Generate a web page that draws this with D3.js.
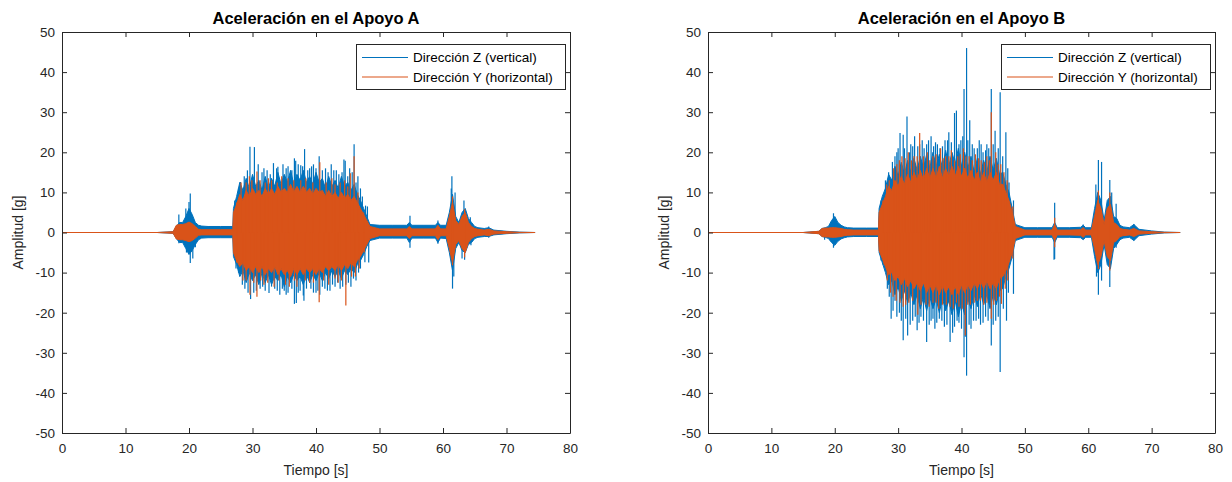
<!DOCTYPE html>
<html><head><meta charset="utf-8">
<script src="https://cdn.jsdelivr.net/npm/d3@7"></script>
<style>
body{margin:0;background:#fff}
svg{display:block}
text{font-family:"Liberation Sans",Arial,Helvetica,sans-serif}
</style>
</head><body>
<svg id="chart" width="1232" height="482"></svg>
<script>
// ---------- data ----------
const titles = ["Aceleración en el Apoyo A", "Aceleración en el Apoyo B"];
const seriesNames = ["Dirección Z (vertical)", "Dirección Y (horizontal)"];
const xTicks = [0, 10, 20, 30, 40, 50, 60, 70, 80];
const yTicks = [-50, -40, -30, -20, -10, 0, 10, 20, 30, 40, 50];

// envelope sample times [s]
const times = [0, 15, 17.5, 18, 18.5, 19, 19.5, 20, 20.5, 21, 21.5, 22, 23, 25, 26.9,
 27, 27.5, 28, 28.5, 29, 29.5, 30, 30.5, 31, 31.5, 32, 32.5, 33, 33.5, 34, 34.5, 35, 35.5, 36, 36.5, 37, 37.5, 38, 38.5, 39, 39.5, 40, 40.5, 41, 41.5, 42, 42.5, 43, 43.5, 44, 44.5, 45, 45.5, 46, 46.5, 47, 47.5, 48, 48.5,
 50, 52, 54.3, 54.7, 55.1, 57, 58.8, 59.2, 59.6, 60.5, 61, 61.5, 62, 62.5, 63, 63.5, 64, 64.5, 65, 65.5, 66.5, 67.2, 68, 70, 72, 74.5];

// Apoyo A — Z (vertical) envelope
const zHiA = [0, 0, 0.2, 1.5, 2.5, 2.5, 4, 6, 4.5, 2.5, 1.8, 1.6, 1.5, 1.5, 1.5,
 6, 9, 12.5, 10.5, 13.5, 11, 14.5, 11.5, 13, 10.5, 14, 11, 13.5, 11.5, 15, 12, 14.5, 12.5, 15.5, 12, 14.5, 13, 15.5, 12.5, 14, 12, 15, 12.5, 13.5, 11, 14, 11.5, 13, 11, 14, 11.5, 12.5, 10.5, 12, 9.5, 8, 6, 4, 2,
 1.8, 1.8, 1.8, 2.5, 1.8, 1.8, 1.8, 2.5, 1.8, 1.8, 5, 9.5, 4, 2.5, 5, 6, 3.5, 2.5, 1.5, 1.2, 1, 1.2, 0.6, 0.3, 0.1, 0];
const zLoA = [0, 0, -0.2, -1.5, -2.5, -2.5, -4, -5.5, -4.5, -3, -1.8, -1.4, -1.3, -1.3, -1.3,
 -6, -8, -11, -9.5, -12.5, -10, -12, -10.5, -13, -10, -12.5, -10.5, -13, -11, -12, -10.5, -13.5, -11, -12.5, -10.5, -12, -11, -13, -10.5, -12.5, -10.5, -12, -10, -12, -10, -11.5, -9.5, -11, -9.5, -11.5, -9.5, -10.5, -9, -10, -8, -7, -5.5, -3.5, -2,
 -1.4, -1.4, -1.4, -2.5, -1.4, -1.4, -1.4, -2.5, -1.4, -1.5, -5, -9.5, -4, -2.5, -4.5, -5, -3, -2.5, -1.5, -1.2, -1, -1, -0.6, -0.3, -0.1, 0];
// Apoyo A — Y (horizontal) envelope
const yHiA = [0, 0, 0.2, 1.8, 2, 2, 2.2, 2.6, 2.2, 1.5, 0.8, 0.7, 0.7, 0.7, 0.7,
 5, 7, 9.5, 8, 10.5, 9, 11, 9.5, 10.5, 9, 11, 9.5, 11, 9.5, 11.5, 10, 11, 10, 12, 10, 11.5, 10, 11.5, 10, 11, 9.5, 11, 10, 10.5, 9, 10.5, 9, 10, 8.5, 10, 8.5, 9.5, 8, 9, 7.5, 6, 4.5, 3, 1.5,
 0.9, 0.9, 0.9, 1.5, 0.9, 0.9, 0.9, 1.8, 0.9, 0.9, 4, 7.5, 3, 2, 4, 5, 2.5, 1.5, 1, 0.8, 0.6, 0.8, 0.4, 0.2, 0.05, 0];
const yLoA = [0, 0, -0.2, -1.6, -1.8, -1.8, -2, -2.3, -2, -1.4, -0.7, -0.6, -0.6, -0.6, -0.6,
 -5, -7, -8.5, -7.5, -9.5, -8.5, -10, -8.5, -10, -8.5, -10.5, -9, -10, -8.5, -10.5, -9, -10.5, -9.5, -11, -9, -10.5, -9, -10.5, -9, -10, -9, -10.5, -9, -10, -8.5, -9.5, -8.5, -9.5, -8, -9.5, -8, -9, -7.5, -8.5, -7, -6, -4.5, -3, -1.5,
 -0.8, -0.8, -0.8, -1.5, -0.8, -0.8, -0.8, -1.8, -0.8, -0.8, -4, -7.5, -3, -2, -4, -5, -2.5, -1.5, -1, -0.8, -0.6, -0.8, -0.4, -0.2, -0.05, 0];

// Apoyo B — Z (vertical) envelope
const zHiB = [0, 0, 0.3, 1, 1.2, 1.5, 3, 4, 2.5, 1.8, 1.4, 1.2, 1.1, 1.1, 1.1,
 6, 9, 11, 14.5, 13, 16.5, 14, 17.5, 14.5, 18, 15, 18.5, 15.5, 19, 16, 19.5, 16, 20, 16.5, 19.5, 16, 20.5, 16.5, 20, 17, 21, 16.5, 20, 16, 19, 15, 18.5, 14.5, 18, 15, 19, 15.5, 18.5, 14.5, 15, 12, 10, 6, 2,
 1.2, 1.2, 1.2, 2.5, 1.2, 1.2, 1.3, 1.8, 1.2, 1.2, 6, 10, 8, 3, 8, 9, 4, 3.5, 1.8, 1.4, 1.2, 2, 0.8, 0.4, 0.1, 0];
const zLoB = [0, 0, -0.3, -1, -1.2, -1.5, -2.5, -3.2, -2.2, -1.6, -1.3, -1.1, -1, -1, -1,
 -5, -7.5, -10, -13, -12, -15.5, -13.5, -17, -14.5, -17.5, -15, -18, -15.5, -19, -16, -19.5, -16, -19, -16.5, -20, -16.5, -19.5, -17, -20.5, -17, -21, -17.5, -20.5, -16.5, -19, -15.5, -18.5, -15, -18, -15.5, -19, -15.5, -18, -14.5, -14, -11, -9, -6, -2,
 -1.2, -1.2, -1.2, -2.5, -1.2, -1.2, -1.3, -1.8, -1.2, -1.2, -6, -10, -8, -3, -8, -9, -4, -3, -1.8, -1.4, -1.2, -2, -0.8, -0.4, -0.1, 0];
// Apoyo B — Y (horizontal) envelope
const yHiB = [0, 0, 0.3, 1, 1.1, 1.1, 1.2, 1.2, 1.1, 1, 0.8, 0.7, 0.6, 0.6, 0.6,
 5, 7, 9, 11.5, 10.5, 13, 11.5, 14, 12, 14.5, 12.5, 15, 13, 15.5, 13, 16, 13.5, 16, 13.5, 16.5, 13.5, 16, 14, 16.5, 14, 16.5, 14, 16, 13.5, 15.5, 13, 15, 12.5, 15, 12.5, 15, 13, 15, 12, 12, 10, 8, 5, 1.5,
 0.6, 0.6, 0.6, 2, 0.6, 0.6, 0.7, 1.2, 0.6, 0.6, 4, 8, 6, 2, 6, 7, 2.5, 2, 1, 0.8, 0.6, 1, 0.4, 0.2, 0.05, 0];
const yLoB = [0, 0, -0.3, -1, -1.1, -1.1, -1.2, -1.2, -1.1, -1, -0.8, -0.7, -0.6, -0.6, -0.6,
 -4.5, -6.5, -8.5, -10.5, -10, -12, -11, -13, -11.5, -13.5, -12, -14, -12.5, -14.5, -12.5, -15, -13, -15, -13, -15.5, -13, -15, -13.5, -15.5, -13.5, -15.5, -13, -15, -13, -14.5, -12.5, -14, -12, -14, -12, -14, -12.5, -14, -11.5, -11, -9.5, -7.5, -5, -1.5,
 -0.6, -0.6, -0.6, -2, -0.6, -0.6, -0.7, -1.2, -0.6, -0.6, -4, -8, -6, -2, -6, -7, -2.5, -2, -1, -0.8, -0.6, -1, -0.4, -0.2, -0.05, 0];

// isolated peaks [time s, amplitude g]
const zPeaksA = [[18.4,4.5],[18.4,-2.7],[19.5,6],[20.0,7.6],[20.2,9.7],[20.2,-7.6],[20.6,-6.5],[19.6,-5],[21.0,-3.7],
 [28.1,12.6],[29.6,21.4],[30.3,21.3],[30.9,17],[31.8,16],[32.3,15.5],[33.3,17.3],[34.0,16.4],[34.8,17],[35.6,16.5],[36.6,18.5],[36.8,17.9],[37.6,16.8],[38.2,20.8],[39.0,16],[39.6,17],[40.5,19.0],[41.5,16],[42.4,17],[43.2,15.5],[44.4,18.2],[44.6,17.9],[45.3,16],[46.0,22.0],[46.6,14],[47.3,9],[47.8,6.7],[48.1,6.5],
 [27.2,8],[27.8,11],[28.7,14],[29.2,15.5],[31.5,15],[32.8,14.5],[33.8,16],[35.3,16],[36.2,15.5],[37.2,17],[37.9,16.5],[38.7,15.5],[39.3,16.5],[40.0,16],[41.0,15.5],[41.9,15],[42.8,15.5],[43.6,14.5],[44.1,15],[45.0,14],[45.7,15],[46.3,12.5],[47.0,11],
 [27.4,-9],[28.4,-13],[29.7,-16.6],[30.2,-15],[31.2,-14],[32.0,-14.5],[32.6,-15.1],[33.5,-14],[34.3,-15.5],[35.0,-14.5],[35.6,-15],[36.6,-17.8],[36.9,-17.6],[37.5,-14.5],[38.0,-15.7],[38.1,-17],[39.2,-14],[40.0,-15],[40.6,-15.5],[41.4,-14],[42.2,-14.5],[43.0,-13.5],[43.8,-14],[44.7,-13],[45.5,-13.5],[46.3,-12],[47.0,-9],[47.7,-7.4],[48.3,-7.5],
 [27.8,-10],[28.8,-14],[29.3,-15],[30.6,-14.5],[31.6,-13.5],[33.0,-13.5],[33.9,-14.5],[34.7,-14],[35.3,-15.5],[36.2,-14],[37.2,-15],[38.5,-14],[39.6,-15],[40.3,-14.5],[41.0,-13.5],[41.8,-14.5],[42.6,-13],[43.4,-12.5],[44.2,-13.5],[45.1,-12.5],[45.9,-11.5],[46.7,-10],
 [54.8,4.2],[54.8,-3.8],[59.2,3.0],[59.2,-2.8],[61.3,11],[61.4,14.0],[61.5,-14.0],[61.7,-11],[61.9,10],[63.0,-6.5],[63.3,8.0],[63.4,-6.8],[64.3,3.8],[64.4,-3.2],[67.2,1.5],[67.2,-1.3]];
const yPeaksA = [[28.2,12.5],[29.5,14],[30.7,15.2],[32.5,13.5],[34.6,14],[36.5,13],[38.4,13.5],[40.6,17.5],[42.5,13.5],[44.5,13],[45.4,14.8],[46.0,19.0],[47.5,5],
 [27.5,7.5],[29.0,12.5],[29.9,13],[31.2,13],[32.0,12.5],[33.0,13],[33.9,12.5],[35.6,13.5],[37.6,13],[39.5,12.5],[41.6,12.5],[43.0,12],[43.8,12.5],[45.0,11.5],[46.6,10],
 [28.5,-12],[29.6,-15.5],[30.7,-16],[31.8,-13],[33.4,-13.5],[35.2,-13],[37.0,-13.5],[39.0,-12.5],[40.5,-17.4],[42.0,-13],[43.5,-12.5],[44.7,-18.2],[46.2,-11],[47.6,-5],
 [27.5,-7.5],[29.0,-12],[30.2,-12.5],[31.3,-12],[32.4,-12.5],[34.2,-12],[35.8,-13.5],[36.6,-12],[38.3,-12],[39.6,-12.5],[41.2,-12],[43.0,-11.5],[44.0,-12],[45.6,-11],[46.8,-9],
 [61.5,9],[61.5,-8.2],[63.4,5.8],[63.4,-6.2]];
const zPeaksB = [[19.8,4.8],[19.8,-3.8],[18.4,-1.8],
 [28.0,13],[29.1,17.6],[29.8,20],[30.3,24.8],[30.8,24.4],[31.4,28.9],[32.0,22],[32.6,24],[33.1,21.5],[33.8,23],[34.5,22],[35.2,24],[35.9,22.5],[36.6,21],[37.4,23],[38.0,25],[38.9,29.8],[39.2,30.4],[39.6,22],[40.4,35.8],[40.8,46.0],[41.3,28.0],[42.0,21],[42.8,23],[43.4,20],[44.0,22],[44.7,35.8],[45.3,25.4],[46.1,35.0],[47.0,25],[47.5,12.5],[48.2,8],
 [27.3,8],[28.5,15],[29.5,19],[30.0,21],[31.0,21],[31.8,20],[32.3,21.5],[33.4,22],[34.1,21],[34.8,23],[35.6,21.5],[36.2,22],[37.0,21.5],[37.8,23],[38.4,22.5],[39.9,23],[40.2,24],[41.0,23],[41.7,22],[42.5,21],[43.1,22],[43.8,20.5],[44.3,21],[45.0,22],[45.8,21],[46.5,19],[47.3,16],
 [27.6,-8],[28.3,-14],[28.9,-21.5],[29.5,-17],[30.2,-20],[30.8,-26.9],[31.5,-25.7],[32.3,-22],[33.0,-24.4],[33.6,-21],[34.5,-27.3],[35.2,-22],[35.8,-24],[36.5,-21.5],[37.3,-23.5],[38.2,-27.3],[38.6,-25],[39.3,-22],[40.0,-24],[40.4,-31.1],[40.8,-35.7],[41.5,-24],[42.3,-22],[43.0,-23],[43.8,-21],[44.7,-28.2],[45.4,-22],[46.1,-34.8],[47.1,-22],[48.2,-15.3],
 [27.3,-7],[28.6,-16],[29.2,-19.5],[29.8,-21],[30.5,-22],[31.2,-21.5],[31.9,-23],[32.7,-21],[33.3,-22.5],[34.0,-22],[34.9,-23],[35.5,-21.5],[36.1,-22.5],[36.9,-22],[37.7,-23],[38.9,-23.5],[39.6,-22.5],[40.6,-26],[41.2,-23],[41.9,-22],[42.7,-21.5],[43.4,-22.5],[44.2,-22],[45.0,-23],[45.8,-21],[46.6,-19],[47.4,-15],
 [54.7,7.4],[54.7,-6.6],[54.6,-6.8],[59.2,2],[61.2,12],[61.3,-11],[61.6,18.1],[61.6,-15.5],[62.1,17.6],[62.1,-12],[63.4,13.1],[63.4,-13.6],[63.7,10],[64.4,7.2],[64.4,-3.8],[67.2,2.1],[67.2,-2.0]];
const yPeaksB = [[27.6,8],[28.6,13],[29.8,17],[30.6,19],[31.6,20],[32.5,19],[33.4,24.8],[34.6,20],[35.5,19],[36.7,21],[37.5,19],[38.4,20.5],[39.4,19],[40.3,21],[41.2,19],[42.2,19.5],[43.1,18],[44.0,19],[44.7,30.0],[45.4,20],[46.2,17],[47.2,13],[48.1,6.5],
 [28.2,12],[29.3,16],[30.2,18],[31.1,18.5],[32.1,18],[33.0,19],[34.0,19],[35.0,18],[36.0,19.5],[37.1,18.5],[38.0,19],[38.9,18],[39.8,19.5],[40.7,19],[41.7,18],[42.7,18.5],[43.6,17.5],[44.4,18],[45.8,17],[46.7,15],
 [27.8,-8],[28.8,-15],[29.7,-17],[30.8,-18.5],[31.7,-17.5],[33.1,-20.5],[34.4,-18],[35.5,-17.5],[36.4,-19],[37.6,-18],[38.7,-19],[39.6,-18.5],[40.6,-25.7],[41.4,-18],[42.5,-17],[43.5,-18],[44.7,-21.5],[45.5,-17],[46.3,-17.8],[47.3,-12],[48.1,-6.5],
 [28.3,-12],[29.2,-16],[30.3,-17.5],[31.2,-18],[32.3,-17],[33.6,-18],[34.9,-18.5],[36.0,-17.5],[37.0,-18],[38.2,-18.5],[39.2,-17.5],[40.1,-19],[41.0,-18],[42.0,-17.5],[43.0,-17],[44.0,-17.5],[45.1,-18],[46.0,-16],[46.9,-14],
 [54.7,3.7],[54.7,-3.7],[61.6,10.5],[61.6,-9.1],[63.4,10.0],[63.4,-9.5]];

// ---------- drawing ----------
const colors = ["#0072BD", "#D95319"];
const ink = "#262626";
const svg = d3.select("#chart");

const panels = [
  {title: titles[0], left: 62, right: 570, series: [
    {hi: zHiA, lo: zLoA, peaks: zPeaksA}, {hi: yHiA, lo: yLoA, peaks: yPeaksA}]},
  {title: titles[1], left: 708, right: 1215, series: [
    {hi: zHiB, lo: zLoB, peaks: zPeaksB}, {hi: yHiB, lo: yLoB, peaks: yPeaksB}]}
];
const plotTop = 32, plotBottom = 433;

panels.forEach(p => {
  const x = d3.scaleLinear().domain([0, 80]).range([p.left, p.right]);
  const y = d3.scaleLinear().domain([-50, 50]).range([plotBottom, plotTop]);
  const g = svg.append("g");

  // signals
  p.series.forEach((s, si) => {
    const pts = times.map((t, i) => ({t, hi: s.hi[i], lo: s.lo[i]}));
    const area = d3.area().x(d => x(d.t)).y0(d => y(d.lo)).y1(d => y(d.hi));
    g.append("path").datum(pts).attr("d", area)
      .attr("fill", colors[si]).attr("stroke", colors[si]).attr("stroke-width", 1)
      .attr("stroke-linejoin", "round");
    g.selectAll(null).data(s.peaks).join("line")
      .attr("x1", d => x(d[0])).attr("x2", d => x(d[0]))
      .attr("y1", y(0)).attr("y2", d => y(d[1]))
      .attr("stroke", colors[si]).attr("stroke-width", 1.2);
  });

  // axes (ticks inside, mirrored on top/right)
  const fmt = d => String(d);
  const ax = g.append("g").attr("transform", `translate(0,${plotBottom})`)
    .call(d3.axisBottom(x).tickValues(xTicks).tickFormat(fmt).tickSizeInner(-5).tickSizeOuter(0).tickPadding(10));
  const ay = g.append("g").attr("transform", `translate(${p.left},0)`)
    .call(d3.axisLeft(y).tickValues(yTicks).tickFormat(fmt).tickSizeInner(-5).tickSizeOuter(0).tickPadding(7));
  const at = g.append("g").attr("transform", `translate(0,${plotTop})`)
    .call(d3.axisTop(x).tickValues(xTicks).tickFormat("").tickSizeInner(-5).tickSizeOuter(0));
  const ar = g.append("g").attr("transform", `translate(${p.right},0)`)
    .call(d3.axisRight(y).tickValues(yTicks).tickFormat("").tickSizeInner(-5).tickSizeOuter(0));
  [ax, ay, at, ar].forEach(a => {
    a.selectAll("path,line").attr("stroke", ink);
    a.selectAll("text").attr("fill", ink).style("font-size", "13.5px").style("font-family", '"Liberation Sans",Arial,sans-serif');
  });

  // title
  g.append("text").attr("x", (p.left + p.right) / 2).attr("y", 24)
    .attr("text-anchor", "middle").style("font-size", "16.5px").style("font-weight", "bold")
    .attr("fill", "#000").text(p.title);
  // axis labels
  g.append("text").attr("x", (p.left + p.right) / 2).attr("y", 475)
    .attr("text-anchor", "middle").style("font-size", "14px").attr("fill", ink).text("Tiempo [s]");
  g.append("text").attr("transform", `translate(${p.left - 39},${(plotTop + plotBottom) / 2}) rotate(-90)`)
    .attr("text-anchor", "middle").style("font-size", "14px").attr("fill", ink).text("Amplitud [g]");

  // legend
  const lx = p.right - 214, ly = 44, lw = 209, lh = 45;
  const lg = g.append("g");
  lg.append("rect").attr("x", lx + 0.5).attr("y", ly + 0.5).attr("width", lw).attr("height", lh)
    .attr("fill", "#fff").attr("stroke", ink).attr("stroke-width", 1);
  seriesNames.forEach((name, i) => {
    const yy = ly + 13.5 + i * 19.5;
    lg.append("line").attr("x1", lx + 6).attr("x2", lx + 52).attr("y1", yy).attr("y2", yy)
      .attr("stroke", colors[i]).attr("stroke-width", 1.2);
    lg.append("text").attr("x", lx + 57).attr("y", yy + 4.6).style("font-size", "13.5px")
      .attr("fill", "#000").text(name);
  });
});
</script>
</body></html>
